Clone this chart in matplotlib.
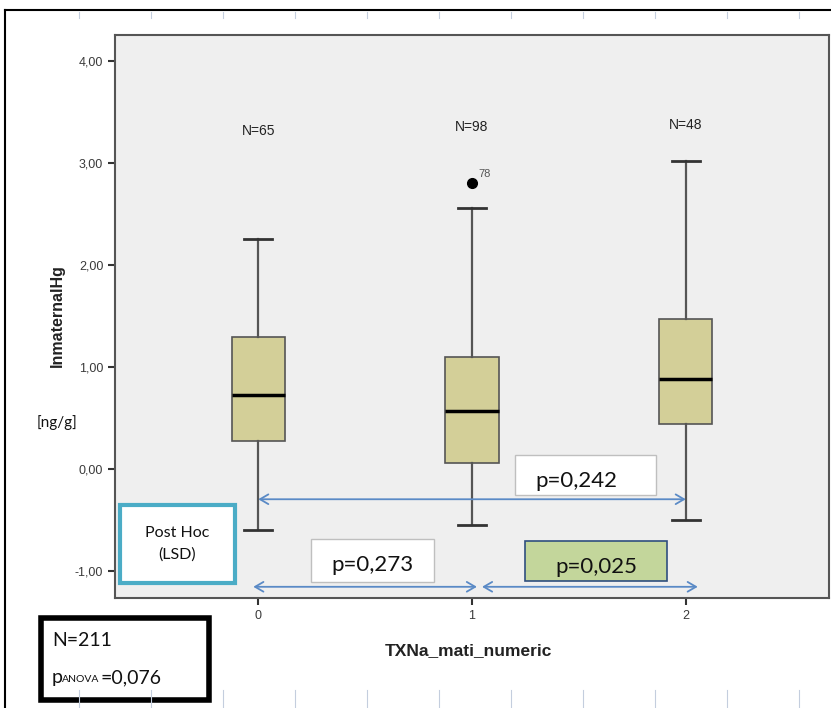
import matplotlib.pyplot as plt
from matplotlib.patches import Rectangle
from matplotlib.lines import Line2D

# group stats
groups = [0, 1, 2]
n_per_group = [65, 98, 48]
whislo = [-0.60, -0.55, -0.50]
q1 = [0.27, 0.06, 0.44]
med = [0.72, 0.57, 0.88]
q3 = [1.29, 1.10, 1.47]
whishi = [2.26, 2.56, 3.02]
fliers = [[], [2.81], []]
flier_ids = [[], ["78"], []]

yticks = [-1, 0, 1, 2, 3, 4]
ytick_labels = ["-1,00", "0,00", "1,00", "2,00", "3,00", "4,00"]

W, H = 831, 708
fig = plt.figure(figsize=(W / 100, H / 100), dpi=100)
fig.patch.set_facecolor("white")


def fx(x):
    return x / W


def fy(y):
    return 1 - y / H


ax = fig.add_axes([fx(115), fy(598), (829 - 115) / W, (598 - 35) / H])
ax.set_facecolor("#efefef")
for s in ax.spines.values():
    s.set_color("#555555")
    s.set_linewidth(1.5)

stats = []
for i in range(len(groups)):
    stats.append(dict(med=med[i], q1=q1[i], q3=q3[i], whislo=whislo[i],
                      whishi=whishi[i], fliers=fliers[i]))
ax.bxp(stats, positions=groups, widths=0.25, patch_artist=True, capwidths=0.13,
       boxprops=dict(facecolor="#d3cf98", edgecolor="#555555", linewidth=1.2),
       medianprops=dict(color="black", linewidth=2.5),
       whiskerprops=dict(color="#555555", linewidth=1.6),
       capprops=dict(color="#333333", linewidth=2),
       flierprops=dict(marker="o", markerfacecolor="black", markeredgecolor="black",
                       markersize=7))

for i, g in enumerate(groups):
    for v, lab in zip(fliers[i], flier_ids[i]):
        ax.text(g + 0.03, v + 0.06, lab, fontsize=8, color="#555555",
                family="Liberation Sans")
    ax.text(g, [3.32, 3.36, 3.38][i], "N=%d" % n_per_group[i], ha="center",
            va="center", fontsize=10, color="#222222", family="Liberation Sans")

ax.set_xlim(-0.67, 2.67)
ax.set_ylim(-1.27, 4.26)
ax.set_xticks(groups)
ax.set_xticklabels([str(g) for g in groups])
ax.set_yticks(yticks)
ax.set_yticklabels(ytick_labels)
ax.tick_params(axis="both", direction="out", length=5, width=1.5, colors="#333333",
               labelsize=9, labelcolor="#3a3a3a")
for t in ax.get_xticklabels() + ax.get_yticklabels():
    t.set_family("Liberation Sans")

# comparison arrows
arrow_col = "#5a8ac6"
style = "<->,head_length=0.6,head_width=0.35"
ax.annotate("", xy=(2.0, -0.30), xytext=(0.0, -0.30),
            arrowprops=dict(arrowstyle=style, color=arrow_col, lw=1.3,
                            shrinkA=0, shrinkB=0))
ax.annotate("", xy=(1.023, -1.16), xytext=(-0.023, -1.16),
            arrowprops=dict(arrowstyle=style, color=arrow_col, lw=1.3,
                            shrinkA=0, shrinkB=0))
ax.annotate("", xy=(2.056, -1.16), xytext=(1.047, -1.16),
            arrowprops=dict(arrowstyle=style, color=arrow_col, lw=1.3,
                            shrinkA=0, shrinkB=0))


def pbox(x0, y0, x1, y1, fc, ec, lw):
    fig.add_artist(Rectangle((fx(x0), fy(y1)), fx(x1) - fx(x0), fy(y0) - fy(y1),
                             facecolor=fc, edgecolor=ec, linewidth=lw,
                             transform=fig.transFigure))


pbox(515, 455, 656, 495, "white", "#bfbfbf", 1)
fig.text(fx(576), fy(481), "p=0,242", ha="center", va="center", fontsize=16,
         family="Lato", color="#111111")
pbox(311, 539, 434, 582, "white", "#bfbfbf", 1)
fig.text(fx(372), fy(565), "p=0,273", ha="center", va="center", fontsize=16,
         family="Lato", color="#111111")
pbox(525, 541, 667, 581, "#c3d69b", "#2f4f7f", 1.2)
fig.text(fx(596), fy(567), "p=0,025", ha="center", va="center", fontsize=16,
         family="Lato", color="#111111")
pbox(120, 505, 235, 583, "white", "#4bacc6", 3)
fig.text(fx(177), fy(544), "Post Hoc\n(LSD)", ha="center", va="center", fontsize=11.5,
         family="Lato", color="#111111", linespacing=1.7)
pbox(41, 618, 209, 700, "white", "black", 4)
fig.text(fx(52), fy(641), "N=211", ha="left", va="center", fontsize=14,
         family="Lato", color="#111111")
fig.text(fx(52), fy(678), "p", ha="left", va="center", fontsize=14,
         family="Lato", color="#111111")
fig.text(fx(62), fy(680), "ANOVA", ha="left", va="center", fontsize=7.5,
         family="Lato", color="#111111")
fig.text(fx(100), fy(678), "=0,076", ha="left", va="center", fontsize=14,
         family="Lato", color="#111111")

# axis titles
fig.text(fx(57), fy(316), "lnmaternalHg", rotation=90, ha="center", va="center",
         fontsize=11.5, fontweight="bold", color="#222222", family="Liberation Sans")
fig.text(fx(57), fy(423), "[ng/g]", ha="center", va="center", fontsize=11,
         family="Lato", color="#111111")
fig.text(fx(468), fy(651), "TXNa_mati_numeric", ha="center", va="center",
         fontsize=12.5, fontweight="bold", color="#222222", family="Liberation Sans")

# page frame and ruler marks
fig.add_artist(Line2D([fx(5), fx(5)], [fy(10), 0], color="black", lw=1.5))
fig.add_artist(Line2D([fx(5), 1], [fy(10), fy(10)], color="black", lw=1.5))
for rx in range(79, 831, 72):
    fig.add_artist(Line2D([fx(rx), fx(rx)], [fy(12), fy(18)], color="#c4cede", lw=0.8))
    fig.add_artist(Line2D([fx(rx), fx(rx)], [fy(690), 0], color="#c4cede", lw=0.8))

fig.savefig("out.png", dpi=100)
